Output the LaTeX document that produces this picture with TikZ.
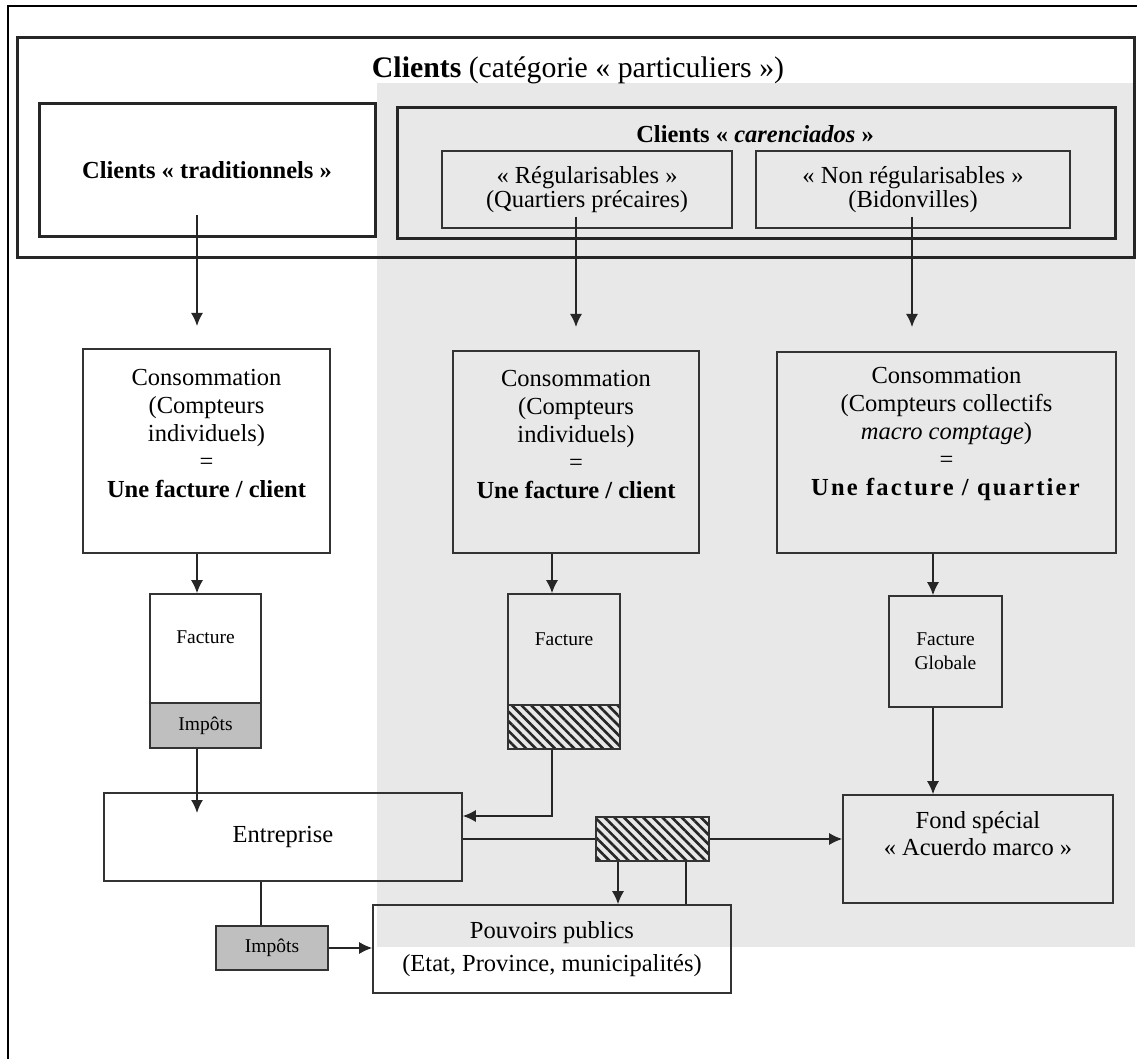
\documentclass[tikz,border=0pt]{standalone}
\usepackage{fontspec}
\setmainfont{Liberation Serif}
\usetikzlibrary{arrows.meta,patterns.meta}
\tikzset{
  cadre/.style={draw=black!85,line width=1.5pt,inner sep=0pt},
  boite/.style={draw=black!80,line width=0.8pt,inner sep=0pt},
  fleche/.style={draw=black!85,line width=0.75pt,-{Latex[length=6.5pt,width=6pt]}},
  trait/.style={draw=black!85,line width=0.75pt},
  hachure/.style={boite,pattern={Lines[angle=-45,distance=3.4pt,line width=1.3pt]},pattern color=black!85},
  petit/.style={font=\fontsize{9.75}{12}\selectfont},
  impot/.style={boite,petit,fill=black!25}
}
\begin{document}
\begin{tikzpicture}[x=0.5pt,y=-0.5pt,every node/.style={font=\fontsize{12.25}{14}\selectfont}]
  \useasboundingbox (0,0) rectangle (1137,1059);
  \fill [black!9] (377,83) rectangle (1135,947);
  \draw [line width=1pt] (8,1059) -- (8,6) -- (1137,6);
  \node [cadre,minimum width=558.5pt,minimum height=110pt] (clients) at (575.5,148) {};
  \node [font=\fontsize{14.9}{17}\selectfont] (titre) at (578,70) {\textbf{Clients} (catégorie « particuliers »)};
  \node [cadre,minimum width=168pt,minimum height=66.5pt,font=\fontsize{12.25}{14}\selectfont\bfseries] (trad) at (207,170.5) {Clients « traditionnels »};
  \node [cadre,minimum width=359pt,minimum height=65.5pt] (caren) at (756,173.5) {};
  \node [font=\fontsize{12.25}{14}\selectfont\bfseries] (carentitre) at (755,134) {Clients « \textit{carenciados} »};
  \node [boite,minimum width=145pt,minimum height=38.5pt,align=center,font=\fontsize{12.25}{12}\selectfont] (regul) at (587,189.5) {« Régularisables »\\(Quartiers précaires)};
  \node [boite,minimum width=157pt,minimum height=38.5pt,align=center,font=\fontsize{12.25}{12}\selectfont] (nonreg) at (913,189.5) {« Non régularisables »\\(Bidonvilles)};
  \node [boite,minimum width=123.5pt,minimum height=102pt] (conso1) at (206.5,451) {};
  \node [align=center] (conso1t) at (206.5,434) {Consommation\\(Compteurs\\individuels)\\=\\\textbf{Une facture / client}};
  \node [boite,minimum width=123pt,minimum height=101pt] (conso2) at (576,452) {};
  \node [align=center] (conso2t) at (576,435) {Consommation\\(Compteurs\\individuels)\\=\\\textbf{Une facture / client}};
  \node [boite,minimum width=169.5pt,minimum height=100.5pt] (conso3) at (946.5,452.5) {};
  \node [align=center] (conso3t) at (946.5,434) {Consommation\\(Compteurs collectifs\\\textit{macro comptage})\\=\\\textbf{\addfontfeatures{LetterSpace=9}Une facture / quartier}};
  \node [boite,petit,minimum width=55.5pt,minimum height=54.5pt,text depth=11.5pt] (fact1) at (205.5,648.5) {Facture};
  \node [impot,minimum width=55.5pt,minimum height=22.5pt] (imp1) at (205.5,725.5) {Impôts};
  \node [boite,petit,minimum width=56pt,minimum height=55.5pt,text depth=10.5pt] (fact2) at (564,649.5) {Facture};
  \node [hachure,minimum width=56pt,minimum height=22pt] (hach2) at (564,727) {};
  \node [boite,petit,minimum width=56.5pt,minimum height=55.5pt,align=center] (fglob) at (945.5,651.5) {Facture\\Globale};
  \node [boite,minimum width=179pt,minimum height=44pt] (ent) at (283,837) {Entreprise};
  \node [hachure,minimum width=56.5pt,minimum height=22pt] (hatc) at (652.5,839) {};
  \node [boite,minimum width=135pt,minimum height=54pt] (fond) at (978,849) {};
  \node [align=center,font=\fontsize{12.25}{13.5}\selectfont] (fondt) at (978,834) {Fond spécial\\« Acuerdo marco »};
  \node [boite,minimum width=179pt,minimum height=44pt,align=center,font=\fontsize{12.25}{16.5}\selectfont] (pouv) at (552,949) {Pouvoirs publics\\(Etat, Province, municipalités)};
  \node [impot,minimum width=56pt,minimum height=22pt] (imp2) at (272,948) {Impôts};
  \coordinate (colA) at (197,215);
  \coordinate (colB) at (576,217);
  \coordinate (colC) at (912,217);
  \coordinate (arrA) at (197,326);
  \coordinate (arrB) at (576,327);
  \coordinate (arrC) at (912,327);
  \coordinate (entA) at (197,813);
  \coordinate (colD) at (552,816);
  \coordinate (colE) at (933,700);
  \coordinate (colF) at (618,880);
  \coordinate (colG) at (686,880);
  \coordinate (colH) at (261,900);
  \draw [fleche] (colA) -- (arrA);
  \draw [fleche] (colB) -- (arrB);
  \draw [fleche] (colC) -- (arrC);
  \draw [fleche] (colA |- conso1.south) -- (colA |- fact1.north);
  \draw [fleche] (colA |- imp1.south) -- (entA);
  \draw [fleche] (colD |- conso2.south) -- (colD |- fact2.north);
  \draw [fleche] (colD |- hach2.south) -- (colD) -- (colD -| ent.east);
  \draw [fleche] (colE |- conso3.south) -- (colE |- fglob.north);
  \draw [fleche] (colE |- fglob.south) -- (colE |- fond.north);
  \draw [trait] (ent.east |- hatc.west) -- (hatc.west);
  \draw [fleche] (hatc.east) -- (hatc.east -| fond.west);
  \draw [fleche] (colF |- hatc.south) -- (colF |- pouv.north);
  \draw [trait] (colG |- hatc.south) -- (colG |- pouv.north);
  \draw [trait] (colH |- ent.south) -- (colH |- imp2.north);
  \draw [fleche] (imp2.east) -- (imp2.east -| pouv.west);
\end{tikzpicture}
\end{document}
